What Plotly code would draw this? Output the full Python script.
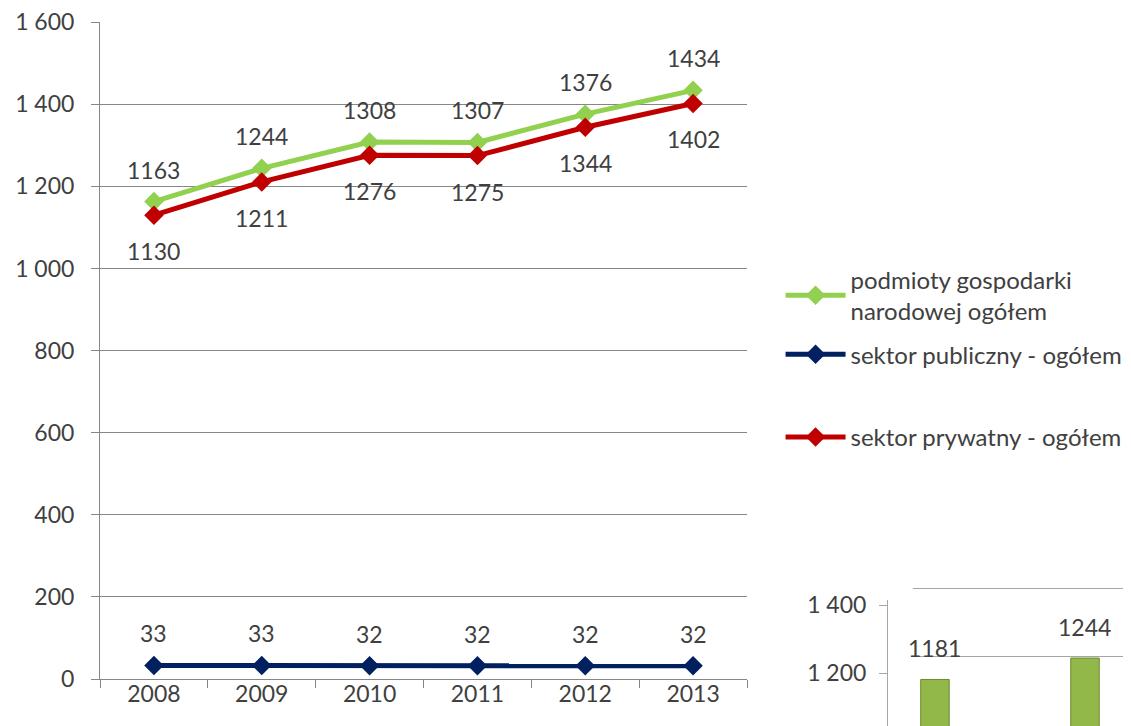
import plotly.graph_objects as go

years = ['2008', '2009', '2010', '2011', '2012', '2013']
podmioty = [1163, 1244, 1308, 1307, 1376, 1434]
publiczny = [33, 33, 32, 32, 32, 32]
prywatny = [1130, 1211, 1276, 1275, 1344, 1402]

names = ['podmioty gospodarki<br>narodowej ogółem',
         'sektor publiczny - ogółem',
         'sektor prywatny - ogółem']

y_ticks = [0, 200, 400, 600, 800, 1000, 1200, 1400, 1600]
y_ticklabels = ['0', '200', '400', '600', '800', '1 000', '1 200', '1 400', '1 600']

# second (cut-off) chart in the bottom-right corner
inset_years = ['2008', '2009']
inset_values = [1181, 1244]
inset_ticks = [1200, 1400]
inset_ticklabels = ['1 200', '1 400']

FONT = 'Lato'
TXT = '#404040'
GRID = '#868686'

fig = go.Figure()

# (values, colour, label offset in px, legend)
series = [
    (podmioty, '#92D050', 32, 'legend'),
    (publiczny, '#002060', 32, 'legend'),
    (prywatny, '#C00000', -36, 'legend2'),
]

for i, (vals, color, shift, leg) in enumerate(series):
    fig.add_trace(go.Scatter(
        x=years, y=vals, mode='lines+markers', name=names[i],
        legend=leg, legendgroup=str(i),
        line=dict(color=color, width=5),
        marker=dict(symbol='diamond', size=15, color=color),
        xaxis='x', yaxis='y'))
    for j, v in enumerate(vals):
        fig.add_annotation(x=j, y=v, xref='x', yref='y', text=str(v),
                           showarrow=False, yshift=shift,
                           font=dict(family=FONT, size=23, color=TXT))

# back wall of the 3D inset (grid only), drawn first
fig.add_trace(go.Scatter(x=[0.5], y=[1300], mode='markers', opacity=0,
                         showlegend=False, hoverinfo='skip',
                         xaxis='x2', yaxis='y2'))

# bars of the inset, in front of the wall
fig.add_trace(go.Bar(
    x=inset_years, y=inset_values, width=0.19,
    marker=dict(color='#93B84A', line=dict(color='#6B8A2C', width=1)),
    showlegend=False, xaxis='x3', yaxis='y3'))
for j, v in enumerate(inset_values):
    fig.add_annotation(x=j, y=v, xref='x3', yref='y3', text=str(v),
                       showarrow=False, yshift=31,
                       font=dict(family=FONT, size=23, color=TXT))

fig.update_layout(
    width=1131, height=726,
    margin=dict(l=92, r=0, t=14, b=0),
    paper_bgcolor='white', plot_bgcolor='rgba(0,0,0,0)',
    font=dict(family=FONT, size=23, color=TXT),
    showlegend=True,
    legend=dict(x=0.655, y=0.669, xanchor='left', yanchor='top',
                font=dict(family=FONT, size=24, color=TXT),
                itemwidth=60, tracegroupgap=9, bgcolor='rgba(0,0,0,0)'),
    legend2=dict(x=0.655, y=0.448, xanchor='left', yanchor='top',
                 font=dict(family=FONT, size=24, color=TXT),
                 itemwidth=60, bgcolor='rgba(0,0,0,0)'),
    xaxis=dict(domain=[0, 647 / 1039], type='category', range=[-0.5, 5.5],
               showline=True, linecolor=GRID, linewidth=1,
               ticks='outside', tickson='boundaries', ticklen=8,
               ticklabelstandoff=-6,
               tickcolor=GRID, showgrid=False, anchor='y', automargin=False,
               tickfont=dict(family=FONT, size=23, color=TXT)),
    yaxis=dict(domain=[55 / 712, 1], range=[0, 1600.5],
               tickvals=y_ticks, ticktext=y_ticklabels, ticklabelstandoff=12,
               ticklabeloverflow='allow',
               showline=True, linecolor=GRID, linewidth=1,
               ticks='outside', ticklen=8, tickcolor=GRID,
               showgrid=True, gridcolor=GRID, gridwidth=1,
               zeroline=False, anchor='x', automargin=False,
               tickfont=dict(family=FONT, size=23, color=TXT)),
    xaxis2=dict(domain=[813 / 1039, 1], range=[0, 1], visible=False,
                anchor='y2', automargin=False),
    yaxis2=dict(domain=[0, 151 / 712], range=[970.6, 1414.7],
                tickvals=inset_ticks, showticklabels=False,
                showline=False, showgrid=True, gridcolor='#a6a6a6',
                zeroline=False, anchor='x2', automargin=False),
    xaxis3=dict(domain=[788 / 1039, 1], type='category',
                range=[-0.313, 1.36], showticklabels=False,
                showline=False, showgrid=False, anchor='y3', automargin=False),
    yaxis3=dict(domain=[0, 134 / 712], range=[1020.6, 1414.7],
                tickvals=inset_ticks, ticktext=inset_ticklabels,
                ticklabelstandoff=8, ticklabeloverflow='allow',
                showline=True, linecolor='#a6a6a6', linewidth=1,
                ticks='outside', ticklen=8, tickcolor='#a6a6a6',
                showgrid=False, zeroline=False, anchor='x3', automargin=False,
                tickfont=dict(family=FONT, size=23, color=TXT)),
)

fig.write_html('out.html')
